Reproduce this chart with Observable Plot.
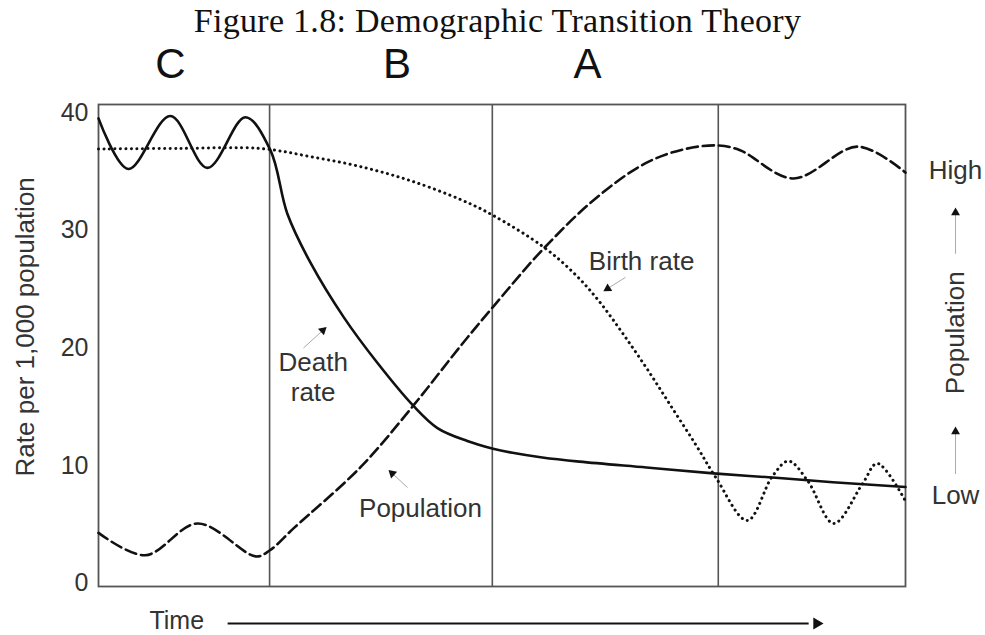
<!DOCTYPE html>
<html><head><meta charset="utf-8">
<script src="https://cdn.jsdelivr.net/npm/d3@7"></script>
<script src="https://cdn.jsdelivr.net/npm/@observablehq/plot@0.6"></script>
<style>
body{margin:0;background:#fff;width:985px;height:635px;overflow:hidden;position:relative}
#title{position:absolute;top:0;left:0;width:985px;height:42px;font-family:"Liberation Serif",serif;font-size:34px;text-align:center;line-height:42px;color:#111;padding-left:10px;box-sizing:border-box;letter-spacing:0.3px}
#chart{position:absolute;top:30px;left:0}
#chart svg{display:block}
</style></head><body>
<div id="title">Figure 1.8: Demographic Transition Theory</div>
<div id="chart"></div>
<script>
// Time axis: 0 = start, 100 = end of the period shown
const stageBounds = [21.2, 48.8, 76.8];
const stageLetters = ["C", "B", "A"];
const stageLetterT = [8.9, 37.0, 60.6];

const yTicks = [0, 10, 20, 30, 40];
const yLabel = "Rate per 1,000 population";

// Death rate (solid)
const deathT    = [0, 3.7, 8.9, 13.5, 18.2, 21.3, 23.4, 26.3, 30.4, 34.6, 39.0, 42.0, 45.7, 48.9, 51.3, 55.0, 59.6, 67.9, 76.2, 83.5, 91.0, 100];
const deathRate = [39.5, 35.2, 39.7, 35.3, 39.6, 36.8, 31.4, 27.2, 22.6, 18.7, 15.1, 13.2, 12.1, 11.45, 11.1, 10.7, 10.35, 9.85, 9.35, 9.0, 8.6, 8.2];

// Birth rate (dotted)
const birthT    = [0, 10, 20.1, 26.3, 32.5, 38.7, 44.9, 48.8, 55.1, 59.0, 62.0, 65.0, 68.0, 71.0, 74.0, 76.5, 80.4, 83.5, 85.5, 87.9, 91.1, 94.7, 96.5, 100];
const birthRate = [36.9, 36.95, 36.94, 36.25, 35.4, 34.2, 32.6, 31.3, 28.6, 26.3, 24.0, 21.2, 18.2, 15.0, 11.8, 9.0, 5.35, 9.1, 10.4, 8.7, 5.1, 8.5, 10.2, 7.0];

// Population (dashed)
const popT       = [0, 5.8, 12.3, 19.5, 21.2, 24.2, 32.5, 39.0, 44.9, 48.9, 55.1, 61.6, 67.8, 72.7, 76.8, 79.5, 86.1, 94.1, 100];
const population = [4.3, 2.4, 5.1, 2.3, 2.8, 4.7, 9.9, 15.1, 20.2, 23.5, 28.4, 32.7, 35.7, 36.9, 37.2, 36.8, 34.4, 37.1, 34.9];

// Annotation labels and their pointer arrows (data units)
const annLabels = ["Death\nrate", "Birth rate", "Population"];
const annT = [26.6, 67.3, 39.9];
const annV = [17.6, 27.4, 6.45];
const ptrFromT = [25.4, 65.3, 38.3];
const ptrFromV = [20.0, 26.0, 8.15];
const ptrToT   = [27.8, 63.1, 36.4];
const ptrToV   = [21.5, 25.05, 9.35];

// Right-hand population scale
const rightLabels = ["High", "Low"];
const rightLabelV = [35.1, 7.5];
const rightT = 106.2;
const rightTitle = "Population";
const rightTitleV = 21.3;
const rightArrowFrom = [28.0, 9.3];
const rightArrowTo = [31.5, 12.9];

// Time arrow
const timeLabel = "Time";
const timeLabelT = 9.7, timeLabelV = -3.15, timeV = -3.4, timeArrowFrom = 16.0, timeArrowTo = 89.0;
const yLabelV = 21.8;

// ---- build tables
const zip = (ts, vs) => ts.map((t, i) => ({t, v: vs[i]}));
const deathData = zip(deathT, deathRate);
const birthData = zip(birthT, birthRate);
const popData = zip(popT, population);
const letters = stageLetters.map((label, i) => ({label, t: stageLetterT[i]}));
const anns = annLabels.map((label, i) => ({label, t: annT[i], v: annV[i]}));
const ptrs = annLabels.map((_, i) => ({t1: ptrFromT[i], v1: ptrFromV[i], t2: ptrToT[i], v2: ptrToV[i]}));
const rlabels = rightLabels.map((label, i) => ({label, v: rightLabelV[i]}));
const rarrows = rightArrowFrom.map((v1, i) => ({v1, v2: rightArrowTo[i]}));

const W = 985, H = 605, mL = 98, mR = 80, mT = 74, mB = 49;
const xDomain = [0, 100], yDomain = [-0.255, 40.68];
const xs = d3.scaleLinear(xDomain, [mL, W - mR]);
const ys = d3.scaleLinear(yDomain, [H - mB, mT]);
const angle = d => {
  const dx = xs(d.t2) - xs(d.t1), dy = ys(d.v2) - ys(d.v1);
  return Math.atan2(dx, -dy) * 180 / Math.PI;
};

const ink = "#111", grey = "#555", txt = "#333", fs = 26;

const chart = Plot.plot({
  width: W, height: H,
  marginLeft: mL, marginRight: mR, marginTop: mT, marginBottom: mB,
  x: {domain: xDomain, axis: null},
  y: {domain: yDomain, axis: null},
  style: {fontFamily: "'Liberation Sans', Arial, sans-serif", background: "transparent", color: txt},
  marks: [
    Plot.axisY(yTicks, {tickSize: 0, tickPadding: 10, fontSize: 25, fill: txt, label: null}),
    Plot.text([yLabel], {frameAnchor: "left", y: yLabelV, text: d => d, rotate: -90, dx: -73,
      textAnchor: "middle", lineAnchor: "middle", fontSize: fs, fill: txt}),
    Plot.ruleX(stageBounds, {stroke: grey, strokeWidth: 1.6}),
    Plot.frame({stroke: grey, strokeWidth: 1.8}),
    Plot.line(birthData, {x: "t", y: "v", curve: "catmull-rom", stroke: ink, strokeWidth: 3,
      strokeDasharray: "0.1 5.4", strokeLinecap: "round"}),
    Plot.line(popData, {x: "t", y: "v", curve: "catmull-rom", stroke: ink, strokeWidth: 2.6,
      strokeDasharray: "11 5"}),
    Plot.line(deathData, {x: "t", y: "v", curve: "catmull-rom", stroke: ink, strokeWidth: 2.6}),
    Plot.text(anns, {x: "t", y: "v", text: "label", fontSize: fs, fill: txt, lineHeight: 1.15}),
    Plot.link(ptrs, {x1: "t1", y1: "v1", x2: "t2", y2: "v2", stroke: "#aaa", strokeWidth: 1}),
    Plot.dot(ptrs, {x: "t2", y: "v2", symbol: "triangle", r: 3.3, fill: ink, stroke: null, rotate: angle}),
    Plot.text(letters, {x: "t", y: 44.1, text: "label", fontSize: 42, fill: ink, fontWeight: 300}),
    Plot.text(rlabels, {x: rightT, y: "v", text: "label", fontSize: fs, fill: txt}),
    Plot.text([rightTitle], {x: rightT, y: rightTitleV, text: d => d, rotate: -90, fontSize: fs, fill: txt}),
    Plot.link(rarrows, {x1: rightT, x2: rightT, y1: "v1", y2: "v2", stroke: "#aaa", strokeWidth: 1}),
    Plot.dot(rarrows, {x: rightT, y: "v2", symbol: "triangle", r: 3.3, fill: ink, stroke: null}),
    Plot.text([timeLabel], {x: timeLabelT, y: timeLabelV, text: d => d, fontSize: 25, fill: txt}),
    Plot.link([0], {x1: timeArrowFrom, x2: timeArrowTo - 1, y1: timeV, y2: timeV, stroke: ink, strokeWidth: 2}),
    Plot.dot([0], {x: timeArrowTo, y: timeV, symbol: "triangle", r: 4.4, fill: ink, stroke: null, rotate: 90})
  ]
});
document.getElementById("chart").appendChild(chart);
</script>
</body></html>
